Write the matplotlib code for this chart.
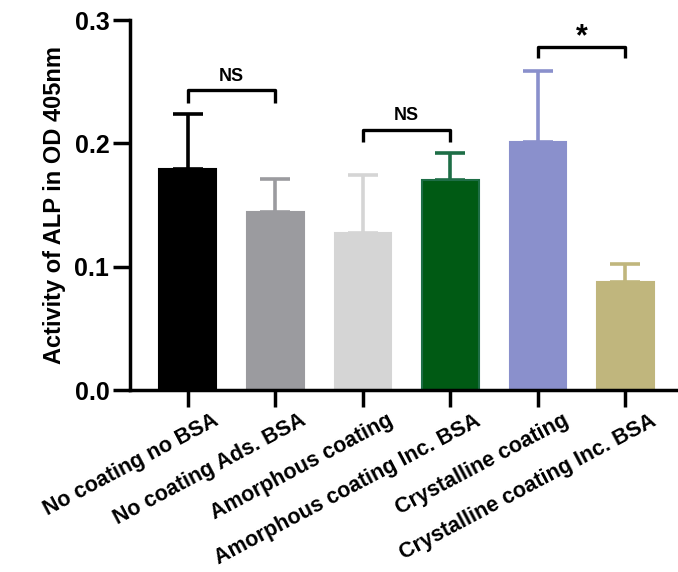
import matplotlib
matplotlib.use("Agg")
import matplotlib.pyplot as plt
import matplotlib.transforms as mtransforms

categories = ["No coating no BSA", "No coating Ads. BSA", "Amorphous coating",
              "Amorphous coating Inc. BSA", "Crystalline coating",
              "Crystalline coating Inc. BSA"]
means = [0.179, 0.144, 0.127, 0.170, 0.201, 0.088]
errors = [0.045, 0.027, 0.047, 0.022, 0.058, 0.014]
colors = ["#000000", "#9b9b9f", "#d5d5d5", "#005a14", "#8a90cc", "#c0b67d"]
edgecolors = ["#000000", "#9b9b9f", "#d5d5d5", "#1e6e46", "#8a90cc", "#c0b67d"]
errcolors = ["#000000", "#9b9b9f", "#d5d5d5", "#1e6e46", "#8a90cc", "#c0b67d"]

# significance brackets: (i, j, bracket y, leg bottom y, label, text y)
sig = [(0, 1, 0.243, 0.233, "NS", 0.2475),
       (2, 3, 0.211, 0.201, "NS", 0.2155),
       (4, 5, 0.278, 0.269, "*", 0.274)]

plt.rcParams['font.family'] = ['Liberation Sans', 'DejaVu Sans']
plt.rcParams['font.weight'] = 'bold'

fig = plt.figure(figsize=(6.78, 5.72), dpi=100)
ax = fig.add_axes([0.192, 0.318, 0.808, 0.647])

x = list(range(len(categories)))
for i in x:
    ax.bar(i, means[i], width=0.65, color=colors[i], edgecolor=edgecolors[i],
           linewidth=1.5, zorder=2)
    ax.errorbar(i, means[i], yerr=[[0], [errors[i]]], fmt='none',
                ecolor=errcolors[i], elinewidth=2.6, capsize=10.5, capthick=2.6,
                zorder=1)

for i, j, yb, yl, lab, yt in sig:
    ax.plot([i, i, j, j], [yl, yb, yb, yl], color='black', lw=2.4,
            solid_capstyle='butt', clip_on=False)
    fs = 13 if lab == "NS" else 22
    ax.text((i + j) / 2, yt, lab, ha='center', va='bottom', fontsize=fs,
            fontweight='bold')

ax.set_xlim(-0.66, 5.6)
ax.set_ylim(0, 0.3)
ax.set_yticks([0.0, 0.1, 0.2, 0.3])
ax.set_yticklabels(["0.0", "0.1", "0.2", "0.3"])
ax.tick_params(axis='y', labelsize=18, width=2.5, length=12, pad=3)
ax.tick_params(axis='x', width=2.5, length=12, pad=4)
for s in ['top', 'right']:
    ax.spines[s].set_visible(False)
for s in ['left', 'bottom']:
    ax.spines[s].set_linewidth(2.5)
ax.set_ylabel("Activity of ALP in OD 405nm", fontsize=17, fontweight='bold',
              labelpad=6)

ax.set_xticks(x)
ax.set_xticklabels([])
trans = ax.get_xaxis_transform() + mtransforms.ScaledTranslation(
    24 / 100, -20 / 100, fig.dpi_scale_trans)
for i, cat in enumerate(categories):
    ax.text(i, 0, cat, transform=trans, rotation=28, ha='right', va='top',
            rotation_mode='anchor', fontsize=15.5, fontweight='bold')

fig.savefig("out.png", dpi=100)
